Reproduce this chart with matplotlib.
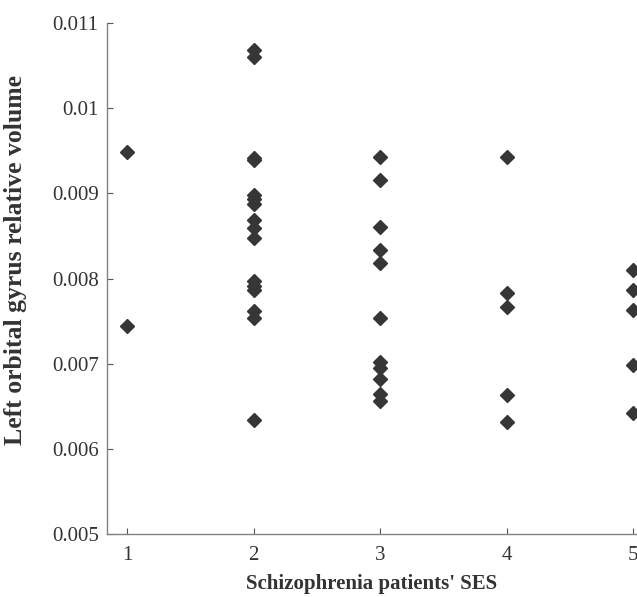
import matplotlib
matplotlib.use("Agg")
import matplotlib.pyplot as plt

# SES groups and the volumes
ses_1 = [0.00948, 0.00744]
ses_2 = [0.01068, 0.01060, 0.00942, 0.00939, 0.00898, 0.00893, 0.00888,
         0.00869, 0.00859, 0.00848, 0.00797, 0.00791, 0.00787,
         0.00762, 0.00754, 0.00634]
ses_3 = [0.009425, 0.00916, 0.00860, 0.00834, 0.00818, 0.00754,
         0.00702, 0.00695, 0.00682, 0.00664, 0.00656]
ses_4 = [0.009425, 0.00783, 0.00767, 0.00663, 0.00632]
ses_5 = [0.00810, 0.00786, 0.00763, 0.00698, 0.00642]

groups = [1, 2, 3, 4, 5]
values = [ses_1, ses_2, ses_3, ses_4, ses_5]

y_ticks = [0.005, 0.006, 0.007, 0.008, 0.009, 0.01, 0.011]
y_tick_labels = ["0.005", "0.006", "0.007", "0.008", "0.009", "0.01", "0.011"]

plt.rcParams['font.family'] = ['Liberation Serif', 'DejaVu Serif']

fig = plt.figure(figsize=(6.37, 5.97), dpi=100)
ax = fig.add_axes([107 / 637, 63 / 597, 530 / 637, 511 / 597])

for g, vals in zip(groups, values):
    ax.plot([g] * len(vals), vals, linestyle="none", marker="D",
            markersize=7, color="#363636", markeredgecolor="#363636")

ax.set_xlim(0.842, 5.03)
ax.set_ylim(0.005, 0.011)
ax.set_xticks(groups)
ax.set_yticks(y_ticks)
ax.set_yticklabels(y_tick_labels)

for side in ["top", "right"]:
    ax.spines[side].set_visible(False)
for side in ["left", "bottom"]:
    ax.spines[side].set_color("#808080")
    ax.spines[side].set_linewidth(1.0)

ax.tick_params(direction="in", length=4, width=0.8, color="#555555",
               labelsize=15, labelcolor="#333333")
ax.tick_params(axis="x", pad=9)
ax.tick_params(axis="y", pad=6)

ax.set_xlabel("Schizophrenia patients' SES", fontsize=15, fontweight="bold",
              color="#333333", labelpad=6)
ax.set_ylabel("Left orbital gyrus relative volume", fontsize=18.5,
              fontweight="bold", color="#333333", va="center")
ax.yaxis.set_label_coords(-0.172, 0.536)

fig.savefig("out.png", dpi=100)
